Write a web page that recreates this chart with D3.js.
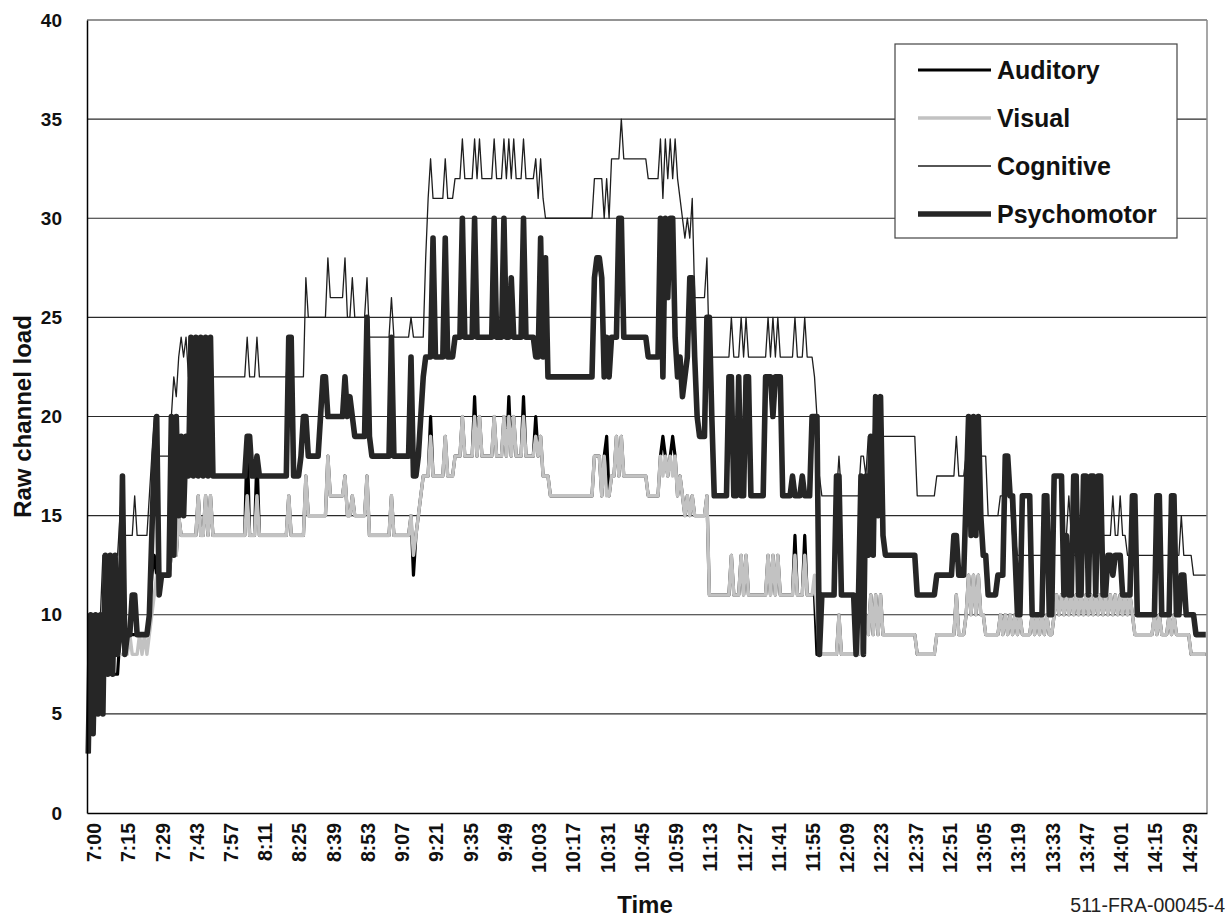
<!DOCTYPE html>
<html>
<head>
<meta charset="utf-8">
<script src="https://cdn.jsdelivr.net/npm/d3@7"></script>
<style>
  body { margin: 0; background: #fff; }
  text { font-family: "Liberation Sans", Arial, sans-serif; }
</style>
</head>
<body>
<svg id="chart" width="1227" height="919"></svg>
<script>
// Time labels shown under every 14th minute
const tickLabels = ["7:00","7:15","7:29","7:43","7:57","8:11","8:25","8:39","8:53","9:07","9:21",
  "9:35","9:49","10:03","10:17","10:31","10:45","10:59","11:13","11:27","11:41","11:55","12:09",
  "12:23","12:37","12:51","13:05","13:19","13:33","13:47","14:01","14:15","14:29"];
const tickEvery = 14;
const minuteCount = 458;

const seriesNames = ["Auditory", "Visual", "Cognitive", "Psychomotor"];

// Channel load per minute, run-length coded as [load, consecutive minutes]
const auditoryRuns = [[3,1],[7,12],[9,12],[10,1],[12,1],[13,1],[12,6],[13,1],[15,1],[13,1],[15,1],
  [14,7],[16,1],[14,2],[16,1],[14,1],[16,1],[14,14],[19,1],[14,3],[18,1],[14,12],[16,1],[14,6],
  [17,1],[15,8],[18,1],[16,6],[17,1],[15,2],[16,1],[15,5],[17,1],[14,9],[16,1],[14,7],[15,1],[12,1],
  [14,1],[15,1],[16,1],[17,3],[20,1],[17,5],[19,1],[17,3],[18,3],[20,1],[18,4],[21,1],[18,1],[20,1],
  [18,5],[20,1],[18,3],[20,1],[18,1],[21,1],[18,1],[20,1],[18,3],[21,1],[18,4],[20,1],[18,1],[19,1],
  [17,3],[16,18],[18,3],[16,1],[18,1],[19,1],[16,1],[17,2],[19,1],[17,1],[19,1],[17,10],[16,5],
  [18,1],[19,1],[18,1],[17,1],[18,1],[19,1],[18,1],[16,1],[17,1],[16,1],[15,1],[16,1],[15,1],[16,1],
  [15,5],[16,1],[11,9],[13,1],[11,3],[13,1],[11,1],[13,1],[11,8],[13,1],[11,1],[13,1],[11,1],[13,1],
  [11,6],[14,1],[11,3],[14,1],[11,4],[8,9],[10,1],[8,8],[10,1],[9,1],[10,1],[9,1],[11,1],[9,1],[11,1],
  [9,1],[11,1],[9,14],[8,8],[9,8],[11,1],[9,3],[10,1],[12,1],[10,1],[12,1],[10,1],[12,1],[10,2],[9,6],
  [10,1],[9,1],[10,1],[9,1],[10,1],[9,1],[10,1],[9,1],[10,1],[9,4],[10,1],[9,1],[10,1],[9,1],[10,1],
  [9,1],[10,1],[9,2],[10,1],
  [11,1],[10,1],[11,1],[10,1],[11,1],[10,1],[11,1],[10,1],[11,1],[10,1],[11,1],[10,1],[11,1],[10,1],
  [11,1],[10,1],[11,1],[10,1],[11,1],[10,1],[11,1],[10,1],[11,1],[10,1],[11,1],[10,1],[11,1],[10,1],
  [11,1],[10,1],[11,1],[10,1],
  [9,8],[10,1],[9,1],[10,1],[9,3],[10,1],[9,1],[10,1],[9,6],[8,7]];

const visualRuns = [[3,1],[7,5],[8,11],[9,1],[8,3],[9,1],[8,1],[9,1],[8,1],[9,1],[10,1],[11,1],[12,6],
  [13,1],[15,1],[13,1],[15,1],[14,7],[16,1],[14,2],[16,1],[14,1],[16,1],[14,14],[16,1],[14,3],[16,1],
  [14,12],[16,1],[14,6],[17,1],[15,8],[18,1],[16,6],[17,1],[15,2],[16,1],[15,5],[17,1],[14,9],[16,1],
  [14,7],[15,1],[13,1],[14,1],[15,1],[16,1],[17,3],[19,1],[17,5],[19,1],[17,3],[18,3],[20,1],[18,4],
  [20,1],[18,1],[20,1],[18,5],[20,1],[18,3],[20,1],[18,1],[20,1],[18,1],[20,1],[18,3],[20,1],[18,4],
  [19,1],[18,1],[19,1],[17,3],[16,18],[18,3],[16,1],[18,1],[16,2],[17,2],[19,1],[17,1],[19,1],[17,10],
  [16,5],[18,1],[17,1],[18,1],[17,1],[18,1],[17,1],[18,1],[16,1],[17,1],[16,1],[15,1],[16,1],[15,1],
  [16,1],[15,5],[16,1],[11,9],[13,1],[11,3],[13,1],[11,1],[13,1],[11,8],[13,1],[11,1],[13,1],[11,1],
  [13,1],[11,6],[13,1],[11,3],[13,1],[11,3],[12,1],[10,1],[8,8],[10,1],[8,8],[10,1],[9,1],[10,1],[9,1],
  [11,1],[9,1],[11,1],[9,1],[11,1],[9,14],[8,8],[9,8],[11,1],[9,3],[10,1],[12,1],[10,1],[12,1],[10,1],
  [12,1],[10,2],[9,6],[10,1],[9,1],[10,1],[9,1],[10,1],[9,1],[10,1],[9,1],[10,1],[9,4],[10,1],[9,1],
  [10,1],[9,1],[10,1],[9,1],[10,1],[9,2],[10,1],
  [11,1],[10,1],[11,1],[10,1],[11,1],[10,1],[11,1],[10,1],[11,1],[10,1],[11,1],[10,1],[11,1],[10,1],
  [11,1],[10,1],[11,1],[10,1],[11,1],[10,1],[11,1],[10,1],[11,1],[10,1],[11,1],[10,1],[11,1],[10,1],
  [11,1],[10,1],[11,1],[10,1],
  [9,8],[10,1],[9,1],[10,1],[9,3],[10,1],[9,1],[10,1],[9,6],[8,7]];

const cognitiveRuns = [[4,1],[10,5],[13,7],[15,1],[17,1],[14,4],[16,1],[14,5],[16,1],[18,1],[20,2],
  [18,5],[20,1],[22,1],[21,1],[23,1],[24,1],[23,1],[24,1],[22,4],[24,1],[22,2],[24,1],[22,1],[24,1],
  [22,14],[24,1],[22,3],[24,1],[22,12],[24,1],[22,6],[27,1],[25,8],[28,1],[26,6],[28,1],[25,2],[27,1],
  [25,5],[27,1],[24,9],[26,1],[24,7],[25,1],[24,5],[28,1],[31,1],[33,1],[31,5],[33,1],[31,3],[32,3],
  [34,1],[32,4],[34,1],[32,1],[34,1],[32,5],[34,1],[32,3],[34,1],[32,1],[34,1],[32,1],[34,1],[32,3],
  [34,1],[32,4],[33,1],[31,1],[33,1],[31,1],[30,20],[32,4],[30,1],[32,1],[30,1],[33,4],[35,1],[33,10],
  [32,5],[34,1],[31,1],[34,1],[32,1],[34,1],[32,1],[34,1],[32,1],[31,1],[30,1],[29,1],[30,1],[29,1],
  [31,1],[26,5],[28,1],[23,9],[25,1],[23,3],[25,1],[23,1],[25,1],[23,8],[25,1],[23,1],[25,1],[23,1],
  [25,1],[23,6],[25,1],[23,3],[25,1],[23,3],[22,1],[20,1],[17,1],[16,7],[18,1],[16,8],[18,2],[17,1],
  [19,3],[21,1],[19,1],[21,1],[19,14],[16,8],[17,8],[19,1],[17,3],[18,1],[20,1],[18,1],[20,1],[18,1],
  [20,1],[18,3],[15,5],[16,5],[14,2],[13,20],[14,1],[16,1],[14,1],[13,3],[14,13],[16,1],[14,2],[16,1],
  [14,2],[13,22],[15,1],[13,4],[12,6]];

const psychomotorRuns = [[3,1],[10,1],[4,1],[10,1],[5,1],[10,1],[5,1],[13,1],[7,1],[13,1],[7,1],
  [13,1],[8,1],[9,1],[17,1],[8,1],[9,2],[11,2],[9,5],[10,1],[14,1],[18,1],[20,1],[11,1],[12,4],[20,1],
  [13,1],[20,1],[15,1],[19,1],[15,1],[19,1],[17,1],[24,1],[17,1],[24,1],[17,1],[24,1],[17,1],[24,1],
  [17,1],[24,1],[17,14],[19,2],[17,2],[18,1],[17,12],[24,2],[17,3],[18,1],[20,2],[18,5],[20,1],[22,2],
  [20,7],[22,1],[20,1],[21,1],[20,1],[19,5],[25,1],[19,1],[18,8],[24,1],[18,7],[23,1],[17,2],[18,1],
  [20,1],[22,1],[23,3],[29,1],[23,4],[29,1],[23,3],[24,3],[30,1],[24,4],[30,1],[24,7],[30,1],[24,3],
  [30,1],[24,2],[27,1],[24,4],[30,1],[24,4],[23,2],[29,1],[23,1],[28,1],[22,19],[27,1],[28,2],[27,1],
  [22,1],[24,1],[22,1],[24,3],[30,2],[24,10],[23,5],[30,1],[22,1],[30,1],[26,1],[30,2],[24,1],[22,1],
  [23,1],[21,1],[22,1],[23,1],[27,2],[23,1],[20,1],[19,3],[25,2],[20,1],[16,6],[22,2],[16,2],[22,1],
  [16,2],[22,2],[16,6],[22,3],[20,1],[22,3],[16,4],[17,1],[16,3],[17,1],[16,3],[20,3],[8,1],[11,6],
  [17,2],[11,6],[8,1],[11,1],[17,1],[8,1],[17,1],[13,1],[19,1],[13,1],[21,1],[15,1],[21,1],[14,1],
  [13,13],[11,8],[12,7],[14,2],[12,3],[16,1],[20,1],[14,1],[20,1],[14,1],[20,1],[15,1],[13,2],[11,4],
  [12,3],[18,2],[16,2],[13,1],[10,2],[16,4],[10,5],[16,2],[10,2],[17,4],[11,1],[14,1],[11,2],[17,2],
  [11,2],[17,2],[11,1],[17,2],[11,1],[17,2],[11,2],[13,2],[12,1],[13,3],[11,4],[16,2],[10,8],[16,2],
  [10,4],[16,2],[10,2],[12,2],[10,4],[9,5]];

function expandRuns(runs) {
  const out = [];
  runs.forEach(([v, n]) => { for (let k = 0; k < n; k++) out.push(v); });
  while (out.length < minuteCount) out.push(out[out.length - 1]);
  return out.slice(0, minuteCount);
}

const series = [
  { name: seriesNames[0], values: expandRuns(auditoryRuns),    color: "#000000", width: 3.2 },
  { name: seriesNames[1], values: expandRuns(visualRuns),      color: "#c2c2c2", width: 3.4 },
  { name: seriesNames[2], values: expandRuns(cognitiveRuns),   color: "#1e1e1e", width: 1.3 },
  { name: seriesNames[3], values: expandRuns(psychomotorRuns), color: "#262626", width: 5.6 }
];

const svg = d3.select("#chart");
const plot = { left: 87, right: 1207, top: 20, bottom: 813 };

const minutes = d3.range(minuteCount);
const x = d3.scaleBand().domain(minutes).range([plot.left, plot.right]).paddingInner(0).paddingOuter(0);
const xc = i => x(i) + x.bandwidth() / 2;
const y = d3.scaleLinear().domain([0, 40]).range([plot.bottom, plot.top]);

// Horizontal gridlines
const yTicks = d3.range(0, 41, 5);
svg.append("g")
  .selectAll("line")
  .data(yTicks.filter(t => t > 0))
  .join("line")
  .attr("x1", plot.left).attr("x2", plot.right)
  .attr("y1", d => y(d)).attr("y2", d => y(d))
  .attr("stroke", "#2a2a2a").attr("stroke-width", 1.1);

// Plot frame: right edge
svg.append("line")
  .attr("x1", plot.right).attr("x2", plot.right)
  .attr("y1", plot.top).attr("y2", plot.bottom)
  .attr("stroke", "#8a8a8a").attr("stroke-width", 1.5);

// Series lines, drawn in legend order
const line = d3.line()
  .x((d, i) => xc(i))
  .y(d => y(d))
  .curve(d3.curveLinear);

svg.append("g")
  .selectAll("path")
  .data(series)
  .join("path")
  .attr("d", d => line(d.values))
  .attr("fill", "none")
  .attr("stroke", d => d.color)
  .attr("stroke-width", d => d.width)
  .attr("stroke-linejoin", "round")
  .attr("stroke-linecap", "butt");

// Axes
const yAxis = d3.axisLeft(y).tickValues(yTicks).tickSize(0).tickPadding(25);
const gy = svg.append("g").attr("transform", `translate(${plot.left},0)`).call(yAxis);
gy.select(".domain").attr("stroke", "#000").attr("stroke-width", 1.5);
gy.selectAll("text")
  .attr("font-size", 19).attr("font-weight", "bold").attr("fill", "#111")
  .attr("font-family", "Liberation Sans, Arial, sans-serif");

const labelIdx = tickLabels.map((_, k) => k * tickEvery);
const xAxis = d3.axisBottom(x)
  .tickValues(labelIdx)
  .tickFormat((d) => tickLabels[d / tickEvery])
  .tickSize(0);
const gx = svg.append("g").attr("transform", `translate(0,${plot.bottom})`).call(xAxis);
gx.select(".domain").attr("stroke", "#000").attr("stroke-width", 1.5);
gx.selectAll("text")
  .attr("font-size", 19.5).attr("font-weight", "bold").attr("fill", "#111")
  .attr("font-family", "Liberation Sans, Arial, sans-serif")
  .attr("text-anchor", "end")
  .attr("dy", "0.35em")
  .attr("transform", "translate(6,10) rotate(-90)")
  .attr("x", 0).attr("y", 0);

// Axis titles
svg.append("text")
  .attr("transform", `translate(31,${(plot.top + plot.bottom) / 2}) rotate(-90)`)
  .attr("text-anchor", "middle")
  .attr("font-size", 24).attr("font-weight", "bold").attr("fill", "#111")
  .text("Raw channel load");

svg.append("text")
  .attr("x", 645).attr("y", 913)
  .attr("text-anchor", "middle")
  .attr("font-size", 24).attr("font-weight", "bold").attr("fill", "#111")
  .text("Time");

svg.append("text")
  .attr("x", 1225).attr("y", 912)
  .attr("text-anchor", "end")
  .attr("font-size", 19.5).attr("fill", "#222")
  .text("511-FRA-00045-4");

// Legend
const legend = svg.append("g");
legend.append("rect")
  .attr("x", 895).attr("y", 44).attr("width", 282).attr("height", 194)
  .attr("fill", "#fff").attr("stroke", "#444").attr("stroke-width", 1.2);

const rows = legend.selectAll("g.row")
  .data(series)
  .join("g")
  .attr("class", "row")
  .attr("transform", (d, i) => `translate(0,${70 + i * 48})`);

rows.append("line")
  .attr("x1", 918).attr("x2", 991)
  .attr("y1", 0).attr("y2", 0)
  .attr("stroke", d => d.color)
  .attr("stroke-width", d => d.width);

rows.append("text")
  .attr("x", 997).attr("y", 0).attr("dy", "0.36em")
  .attr("font-size", 25).attr("font-weight", "bold").attr("fill", "#111")
  .text(d => d.name);
</script>
</body>
</html>
